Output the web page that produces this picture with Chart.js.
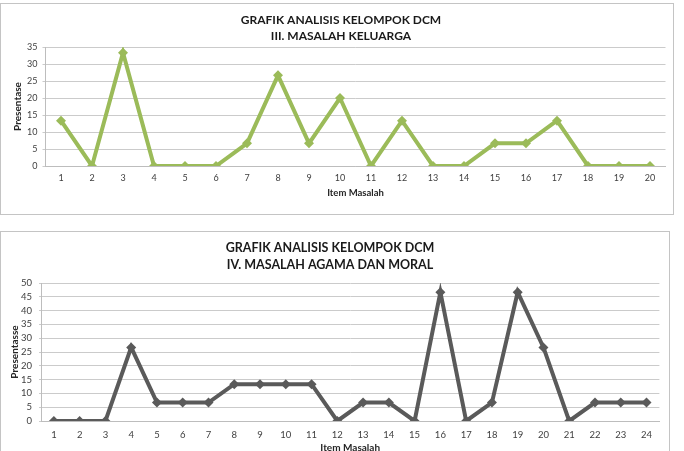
<!DOCTYPE html>
<html><head><meta charset="utf-8">
<script src="https://cdn.jsdelivr.net/npm/chart.js@4.4.1/dist/chart.umd.min.js"></script>
<style>
html,body{margin:0;padding:0;background:#fff;width:684px;height:451px;overflow:hidden;}
.box{position:absolute;border:1px solid #c4c4c4;box-sizing:border-box;}
canvas{position:absolute;left:0;}
</style></head><body>
<div class="box" style="left:0;top:3px;width:674px;height:212px"></div>
<div class="box" style="left:0;top:231px;width:670px;height:240px"></div>
<canvas id="c1" width="684" height="222" style="top:0"></canvas>
<canvas id="c2" width="684" height="226" style="top:225px"></canvas>
<script>
// ---- data ----
const items1 = ['1','2','3','4','5','6','7','8','9','10','11','12','13','14','15','16','17','18','19','20'];
const keluarga = [13.33, 0, 33.33, 0, 0, 0, 6.67, 26.67, 6.67, 20, 0, 13.33, 0, 0, 6.67, 6.67, 13.33, 0, 0, 0];
const items2 = ['1','2','3','4','5','6','7','8','9','10','11','12','13','14','15','16','17','18','19','20','21','22','23','24'];
const agamaMoral = [0, 0, 0, 26.67, 6.67, 6.67, 6.67, 13.33, 13.33, 13.33, 13.33, 0, 6.67, 6.67, 0, 46.67, 0, 6.67, 46.67, 26.67, 0, 6.67, 6.67, 6.67];
const titles1 = ['GRAFIK ANALISIS KELOMPOK DCM', 'III. MASALAH KELUARGA'];
const titles2 = ['GRAFIK ANALISIS KELOMPOK DCM', 'IV. MASALAH AGAMA DAN MORAL'];
const xTitle = 'Item Masalah';
const yTitle1 = 'Presentase';
const yTitle2 = 'Presentasse';
const yMax1 = 35, yMax2 = 50, yStep = 5;

const FONT = 'Lato, "Open Sans", sans-serif';
Chart.defaults.font.family = FONT;
Chart.defaults.color = '#404040';

function build(id, labels, values, titles, yTitle, yMax, s) {
  return new Chart(document.getElementById(id), {
    type: 'line',
    data: { labels: labels, datasets: [{
      data: values,
      borderColor: s.color, backgroundColor: s.color,
      borderWidth: 4, pointStyle: 'rectRot', pointRadius: 5,
      pointBorderWidth: 0, tension: 0, fill: false
    }]},
    options: {
      responsive: false, animation: false, devicePixelRatio: 1,
      layout: { padding: { left: s.padL, right: s.padR, top: 0, bottom: 0 } },
      plugins: {
        legend: { display: false }, tooltip: { enabled: false },
        title: { display: true, text: titles, color: '#1a1a1a',
          font: { size: s.tSize, weight: 'bold', lineHeight: s.tLH },
          padding: { top: s.tPadTop, bottom: s.tPadBot } }
      },
      scales: {
        x: {
          offset: true,
          grid: { display: false, drawTicks: false },
          border: { display: true, color: '#bdbdbd', width: 1 },
          ticks: { font: { size: s.xSize }, padding: s.xPad, maxRotation: 0, autoSkip: false },
          title: { display: true, text: xTitle, color: '#262626',
            font: { size: s.xtSize, weight: 'bold', lineHeight: 1.2 },
            padding: { top: 0, bottom: s.xtPadBot } },
          afterFit: sc => { sc.height = s.xH; }
        },
        y: {
          min: 0, max: yMax,
          ticks: { stepSize: yStep, autoSkip: false, font: { size: s.ySize }, padding: s.yPad },
          grid: { color: '#cbcbcb', lineWidth: 1, tickLength: s.tick, drawTicks: true },
          border: { display: true, color: '#bdbdbd', width: 1 },
          title: { display: true, text: yTitle, color: '#262626',
            font: { size: 10, weight: 'bold', lineHeight: 1.2 },
            padding: { top: s.ytPadTop, bottom: 0 } },
          afterFit: sc => { sc.width = s.yW; }
        }
      }
    }
  });
}

build('c1', items1, keluarga, titles1, yTitle1, yMax1, {
  color: '#9bbb59', padL: 16.5, padR: 18.5,
  tSize: 12, tLH: 16/12, tPadTop: 12, tPadBot: 3,
  xSize: 9, xPad: 6.5, xtSize: 9.5, xtPadBot: 23, xH: 56,
  ySize: 9, yPad: 5, tick: 3, ytPadTop: -4.5, yW: 29
});
build('c2', items2, agamaMoral, titles2, yTitle2, yMax2, {
  color: '#5a5a5a', padL: 0.6, padR: 24.6,
  tSize: 12.5, tLH: 1.4, tPadTop: 14, tPadBot: 9,
  xSize: 9.5, xPad: 7.8, xtSize: 10, xtPadBot: -2.5, xH: 30,
  ySize: 9.5, yPad: 7, tick: 2, ytPadTop: 8.4, yW: 40.4
});
</script>
</body></html>
